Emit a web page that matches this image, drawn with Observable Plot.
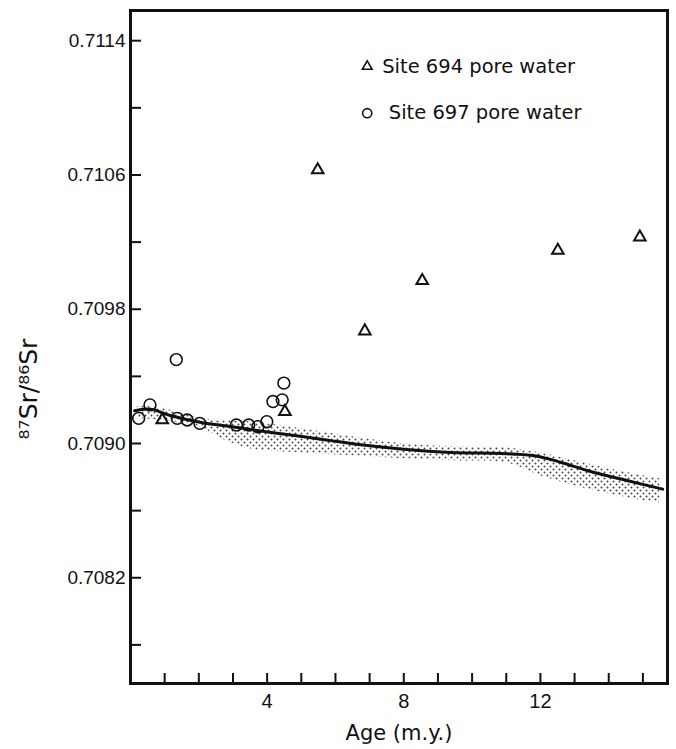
<!DOCTYPE html>
<html><head><meta charset="utf-8">
<script src="https://cdn.jsdelivr.net/npm/d3@7"></script>
<script src="https://cdn.jsdelivr.net/npm/@observablehq/plot@0.6"></script>
<style>body{margin:0;background:#fff}</style>
</head><body><div id="chart"></div>
<script>
// Site 694 pore water (triangles)
const ages694 = [0.93, 4.52, 5.48, 6.86, 8.54, 12.51, 14.91];
const sr694   = [0.70914, 0.70919, 0.71063, 0.70967, 0.70997, 0.71015, 0.71023];
// Site 697 pore water (circles)
const ages697 = [0.24, 0.57, 1.34, 1.37, 1.66, 2.03, 3.10, 3.46, 3.73, 3.99, 4.17, 4.44, 4.49];
const sr697   = [0.70915, 0.70923, 0.70950, 0.70915, 0.70914, 0.70912, 0.70911, 0.70911, 0.70910, 0.70913, 0.70925, 0.70926, 0.70936];
// Seawater curve
const seaAge = [0.12, 0.56, 1.19, 2.07, 3.14, 4.12, 5.58, 6.75, 7.92, 9.39, 10.85, 11.83, 12.61, 13.39, 14.56, 15.58];
const seaSr  = [0.709195, 0.709205, 0.709165, 0.709125, 0.709095, 0.709066, 0.709026, 0.708992, 0.708967, 0.708946, 0.708941, 0.708927, 0.708887, 0.708838, 0.708778, 0.708728];
// Stippled envelope
const bandAge = [0.2, 1.0, 2.0, 2.8, 3.5, 5.0, 6.5, 8.0, 9.5, 11.0, 12.0, 13.0, 14.0, 15.0, 15.5];
const bandHi  = [0.709225, 0.709207, 0.709153, 0.709135, 0.709129, 0.709088, 0.709040, 0.708998, 0.708980, 0.708974, 0.708944, 0.708897, 0.708849, 0.708808, 0.708790];
const bandLo  = [0.709147, 0.709135, 0.709100, 0.709016, 0.708969, 0.708944, 0.708927, 0.708909, 0.708897, 0.708885, 0.708808, 0.708748, 0.708700, 0.708659, 0.708647];

const yTicksLabeled = [0.7082, 0.7090, 0.7098, 0.7106, 0.7114];
const yTicksAll = [0.7078, 0.7082, 0.7086, 0.7090, 0.7094, 0.7098, 0.7102, 0.7106, 0.7110, 0.7114];
const xTicksLabeled = [4, 8, 12];
const xTicksAll = [1, 2, 3, 4, 5, 6, 7, 8, 9, 10, 11, 12, 13, 14, 15];
const legendLabels = ["Site 694 pore water", "Site 697 pore water"];
const xLabel = "Age (m.y.)";
const yLabel = "⁸⁷Sr/⁸⁶Sr";

const site694 = ages694.map((a, i) => ({age: a, sr: sr694[i]}));
const site697 = ages697.map((a, i) => ({age: a, sr: sr697[i]}));
const sea = seaAge.map((a, i) => ({age: a, sr: seaSr[i]}));
const band = bandAge.map((a, i) => ({age: a, hi: bandHi[i], lo: bandLo[i]}));

const ink = "#111";
const tickFont = "Liberation Sans, Arial, sans-serif";
const chart = Plot.plot({
  width: 676, height: 749,
  marginLeft: 130, marginRight: 9, marginTop: 10, marginBottom: 66,
  x: {domain: [0, 15.72], label: null},
  y: {domain: [0.70757, 0.71158], label: null},
  style: {fontFamily: "DejaVu Sans", background: "#fff", color: ink},
  marks: [
    Plot.areaY(band, {x: "age", y1: "lo", y2: "hi", fill: "url(#stipple)", curve: "catmull-rom"}),
    Plot.line(sea, {x: "age", y: "sr", stroke: ink, strokeWidth: 3, curve: "catmull-rom"}),
    Plot.dot(site697, {x: "age", y: "sr", r: 5.9, stroke: ink, strokeWidth: 1.6, fill: "none"}),
    Plot.dot(site694, {x: "age", y: "sr", symbol: "triangle", r: 4.3, stroke: ink, strokeWidth: 2, fill: "none"}),
    Plot.axisY({ticks: yTicksAll, tickSize: -11, strokeWidth: 2, tickFormat: () => "", label: null}),
    Plot.axisY({ticks: yTicksLabeled, tickSize: 0, tickPadding: 5, tickFormat: d3.format(".4f"), fontSize: 19, fontFamily: tickFont, label: null}),
    Plot.axisX({ticks: xTicksAll, tickSize: -10, strokeWidth: 2, tickFormat: () => "", label: null}),
    Plot.axisX({ticks: xTicksLabeled, tickSize: 0, tickPadding: 10, fontSize: 20, fontFamily: tickFont, label: null}),
    Plot.frame({stroke: ink, strokeWidth: 3}),
    Plot.text([xLabel], {text: d => d, frameAnchor: "bottom", dy: 50, lineAnchor: "middle", textAnchor: "middle", fontSize: 21}),
    Plot.text([yLabel], {text: d => d, frameAnchor: "left", dx: -102, dy: 42, rotate: -90, lineAnchor: "middle", textAnchor: "middle", fontSize: 25}),
    Plot.dot([legendLabels[0]], {frameAnchor: "top-left", dx: 236.7, dy: 56, symbol: "triangle", r: 3.6, stroke: ink, strokeWidth: 1.6, fill: "none"}),
    Plot.text([legendLabels[0]], {text: d => d, frameAnchor: "top-left", dx: 251.7, dy: 56, textAnchor: "start", lineAnchor: "middle", fontSize: 19.5}),
    Plot.dot([legendLabels[1]], {frameAnchor: "top-left", dx: 236.7, dy: 102.7, r: 4.6, stroke: ink, strokeWidth: 1.6, fill: "none"}),
    Plot.text([legendLabels[1]], {text: d => d, frameAnchor: "top-left", dx: 258.3, dy: 102.7, textAnchor: "start", lineAnchor: "middle", fontSize: 19.5})
  ]
});
const ns = "http://www.w3.org/2000/svg";
const defs = document.createElementNS(ns, "defs");
defs.innerHTML = '<pattern id="stipple" width="6" height="6" patternUnits="userSpaceOnUse"><circle cx="1.5" cy="1.5" r="1" fill="#444"/><circle cx="4.5" cy="4.5" r="1" fill="#444"/></pattern>';
chart.insertBefore(defs, chart.firstChild);
document.getElementById("chart").appendChild(chart);
</script>
</body></html>
